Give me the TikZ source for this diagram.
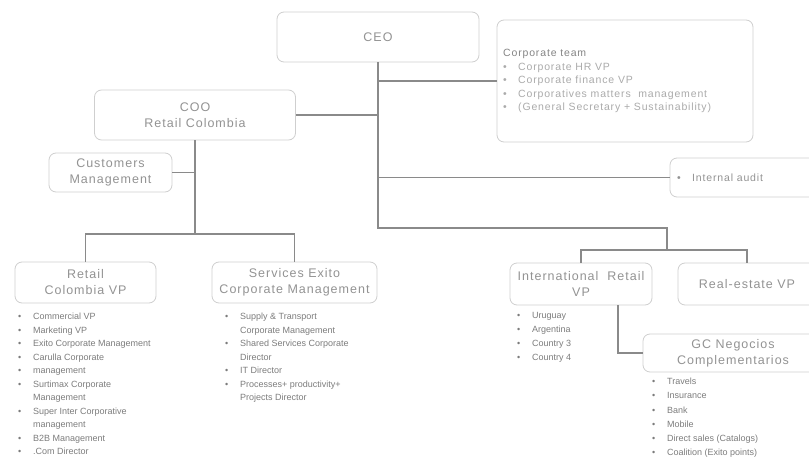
\documentclass[tikz,border=0pt]{standalone}
\usepackage{fontspec}
\setmainfont{Liberation Sans}
\newfontfamily\titlefont[LetterSpace=8]{Liberation Sans}
\definecolor{boxline}{HTML}{CFCFCF}
\definecolor{connline}{HTML}{8A8A8A}
\definecolor{titletext}{HTML}{939393}
\definecolor{listtext}{HTML}{7C7C7C}
\definecolor{corptext}{HTML}{ABABAB}
\definecolor{corphead}{HTML}{858585}
\newcommand\bu{\makebox[15pt][l]{•}}
\newcommand\nb{\hspace*{15pt}}
\tikzset{
  orgbox/.style={draw=boxline, line width=0.8pt, rounded corners=7pt, fill=white,
    inner sep=0pt, align=center, text=titletext,
    font=\titlefont\fontsize{12.5}{16}\selectfont},
  conn/.style={draw=connline, line width=1.8pt},
  bulletlist/.style={anchor=north west, inner sep=0pt, align=left, text=listtext,
    font=\fontsize{9}{13.5}\selectfont},
}
\begin{document}
\begin{tikzpicture}[x=1pt,y=-1pt]
\useasboundingbox (0,0) rectangle (809,458);
\clip (0,0) rectangle (809,458);
% junction points
\coordinate (j1) at (378,228);
\coordinate (j2) at (667,250);
\coordinate (j3) at (195,234);
\coordinate (gcx) at (618,305);
% boxes
\node[orgbox, minimum width=202pt, minimum height=50pt] (ceo) at (378,37) {CEO};
\node[orgbox, minimum width=256pt, minimum height=122pt] (corp) at (625,81) {};
\node[orgbox, minimum width=201pt, minimum height=50pt] (coo) at (195,115) {COO\\Retail Colombia};
\node[orgbox, minimum width=123pt, minimum height=39pt] (cust) at (110.5,172.5) {Customers\\Management};
\node[orgbox, minimum width=160pt, minimum height=39pt] (audit) at (750,177.5) {};
\node[orgbox, minimum width=141pt, minimum height=41pt] (retail) at (85.5,282.5) {Retail\\Colombia VP};
\node[orgbox, minimum width=165pt, minimum height=41pt] (services) at (294.5,282.5) {Services Exito\\Corporate Management};
\node[orgbox, minimum width=142pt, minimum height=42pt] (intl) at (581,284) {International\ \ Retail\\VP};
\node[orgbox, minimum width=138pt, minimum height=42pt] (realestate) at (747,284) {Real-estate VP};
\node[orgbox, minimum width=180pt, minimum height=38pt] (gc) at (733,353) {GC Negocios\\Complementarios};
% texts inside boxes
\node[anchor=north west, inner sep=0pt, align=left, text=corptext,
  font=\titlefont\fontsize{10.5}{13.5}\selectfont] (corplist) at (503,49)
  {{\color{corphead}Corporate team}\\
   \bu Corporate HR VP\\
   \bu Corporate finance VP\\
   \bu Corporatives matters\ \ management\\
   \bu (General Secretary + Sustainability)};
\node[anchor=west, inner sep=0pt, text=titletext,
  font=\titlefont\fontsize{10.5}{13}\selectfont] (audittext) at (677,178)
  {\bu Internal audit};
% lists
\node[bulletlist] (retaillist) at (18,313)
  {\bu Commercial VP\\
   \bu Marketing VP\\
   \bu Exito Corporate Management\\
   \bu Carulla Corporate\\
   \bu management\\
   \bu Surtimax Corporate\\
   \nb Management\\
   \bu Super Inter Corporative\\
   \nb management\\
   \bu B2B Management\\
   \bu .Com Director};
\node[bulletlist] (serviceslist) at (225,313)
  {\bu Supply \& Transport\\
   \nb Corporate Management\\
   \bu Shared Services Corporate\\
   \nb Director\\
   \bu IT Director\\
   \bu Processes+ productivity+\\
   \nb Projects Director};
\node[bulletlist, font=\fontsize{9}{14}\selectfont] (intllist) at (517,312)
  {\bu Uruguay\\
   \bu Argentina\\
   \bu Country 3\\
   \bu Country 4};
\node[bulletlist, font=\fontsize{9}{14.2}\selectfont] (gclist) at (652,378)
  {\bu Travels\\
   \bu Insurance\\
   \bu Bank\\
   \bu Mobile\\
   \bu Direct sales (Catalogs)\\
   \bu Coalition (Exito points)};
% connectors
\draw[conn] (ceo.south) -- (j1) -| (j2);
\draw[conn] (ceo.south |- corp.west) -- (corp.west);
\draw[conn] (coo.east) -- (coo.east -| ceo.south);
\draw[conn] (audit.west -| ceo.south) -- (audit.west);
\draw[conn] (intl.north) |- (j2) -| (realestate.north);
\draw[conn] (coo.south) -- (j3);
\draw[conn] (cust.east) -- (cust.east -| coo.south);
\draw[conn] (retail.north) |- (j3) -| (services.north);
\draw[conn] (intl.south -| gcx) |- (gc.west);
\end{tikzpicture}
\end{document}
